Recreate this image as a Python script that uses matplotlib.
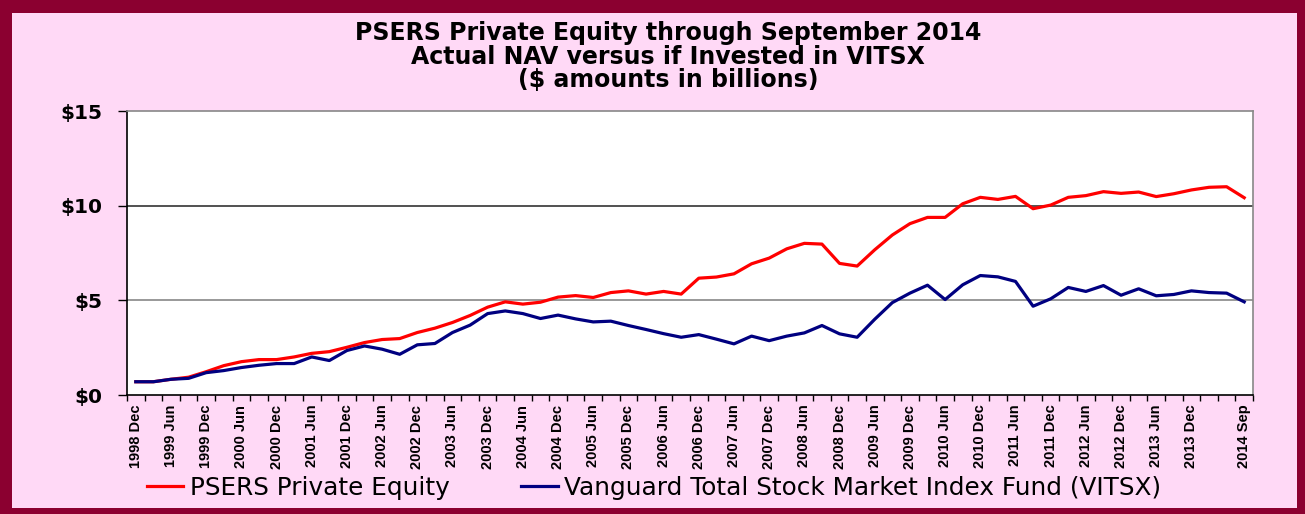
import matplotlib
matplotlib.use("Agg")
import matplotlib.pyplot as plt
from matplotlib.patches import Rectangle

# quarterly values, $ billions, 1998 Dec .. 2014 Sep
years = list(range(1998, 2015))
quarters = ["1998 Dec"] + [f"{y} {m}" for y in years[1:] for m in ("Mar", "Jun", "Sep", "Dec")]
quarters = quarters[:64]

psers_pe = [0.70, 0.70, 0.83, 0.94, 1.23, 1.55, 1.76, 1.87, 1.87, 2.01, 2.20, 2.29,
            2.52, 2.77, 2.93, 2.98, 3.30, 3.53, 3.83, 4.20, 4.64, 4.92, 4.80, 4.90,
            5.17, 5.25, 5.15, 5.41, 5.50, 5.33, 5.47, 5.33, 6.17, 6.23, 6.40, 6.93,
            7.23, 7.72, 8.01, 7.97, 6.95, 6.81, 7.67, 8.45, 9.05, 9.38, 9.38, 10.10,
            10.44, 10.33, 10.49, 9.84, 10.03, 10.44, 10.53, 10.74, 10.65, 10.72, 10.48,
            10.63, 10.83, 10.97, 11.00, 10.42]
vitsx = [0.70, 0.70, 0.83, 0.88, 1.18, 1.29, 1.45, 1.57, 1.66, 1.66, 2.01, 1.82,
         2.35, 2.59, 2.42, 2.15, 2.65, 2.72, 3.30, 3.69, 4.30, 4.44, 4.30, 4.04,
         4.22, 4.02, 3.86, 3.90, 3.67, 3.46, 3.24, 3.05, 3.19, 2.95, 2.70, 3.11,
         2.87, 3.11, 3.28, 3.67, 3.23, 3.05, 4.00, 4.88, 5.38, 5.80, 5.04, 5.82,
         6.31, 6.24, 6.00, 4.69, 5.08, 5.68, 5.47, 5.78, 5.27, 5.61, 5.24, 5.31,
         5.50, 5.41, 5.38, 4.92]

y_ticks = [0, 5, 10, 15]
y_labels = ["$0", "$5", "$10", "$15"]

title_lines = ["PSERS Private Equity through September 2014",
               "Actual NAV versus if Invested in VITSX",
               "($ amounts in billions)"]

W, H = 1305, 514
fig = plt.figure(figsize=(W / 100, H / 100), dpi=100)
fig.patch.set_facecolor("#8B0030")
fig.patches.append(Rectangle((12 / W, 1 - 508 / H), 1285 / W, 495 / H,
                             transform=fig.transFigure, facecolor="#FFD9F6",
                             edgecolor="none", zorder=-10))

ax = fig.add_axes([127 / W, 1 - 395 / H, 1126 / W, 284 / H])
ax.set_facecolor("white")

x = list(range(len(quarters)))
ax.plot(x, psers_pe, color="#FF0000", lw=2.3, label="PSERS Private Equity", zorder=3)
ax.plot(x, vitsx, color="#000080", lw=2.3,
        label="Vanguard Total Stock Market Index Fund (VITSX)", zorder=3)

ax.set_xlim(-0.5, len(quarters) - 0.5)
ax.set_ylim(0, 15)

# y axis
ax.set_yticks(y_ticks)
ax.set_yticklabels(y_labels, fontsize=14.5, fontweight="bold")
ax.tick_params(axis="y", length=6.5, width=1, pad=11, colors="black")
ax.yaxis.grid(True, lw=1.2)
for gl, c in zip(ax.get_ygridlines(), ["none", "#888888", "#333333", "none"]):
    gl.set_color(c)

# x axis: label every other quarter plus the final one
lab_idx = [i for i in x if i % 2 == 0 and i < 62] + [len(quarters) - 1]
ax.set_xticks(lab_idx)
ax.set_xticklabels([quarters[i] for i in lab_idx], rotation=90, fontsize=10.5,
                   fontweight="bold", family="Liberation Sans", va="top", ha="center")
ax.tick_params(axis="x", which="major", length=0, pad=7)
ax.set_xticks([i - 0.5 for i in range(len(quarters) + 1)], minor=True)
ax.tick_params(axis="x", which="minor", length=4, width=1)

for side in ("left", "bottom"):
    ax.spines[side].set_color("black")
    ax.spines[side].set_linewidth(1.2)
for side in ("top", "right"):
    ax.spines[side].set_color("#888888")
    ax.spines[side].set_linewidth(1.2)

for line, ypix in zip(title_lines, [33, 57, 80]):
    fig.text(668 / W, 1 - ypix / H, line, ha="center", va="center", fontsize=17,
             fontweight="bold")

fig.legend(loc="center left", bbox_to_anchor=(147 / W, 1 - 488 / H), ncol=2,
           frameon=False, fontsize=17.8, borderaxespad=0, borderpad=0,
           handlelength=1.46, handletextpad=0.28, columnspacing=2.9)

fig.savefig("out.png", dpi=100, facecolor=fig.get_facecolor())
